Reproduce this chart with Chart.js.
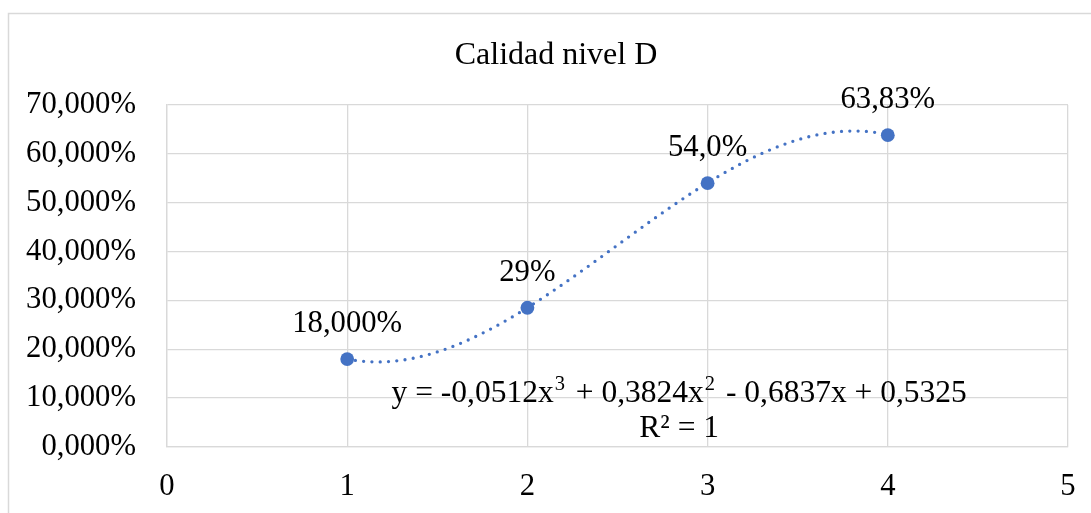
<!DOCTYPE html>
<html lang="es">
<head>
<meta charset="utf-8">
<title>Calidad nivel D</title>
<script src="https://cdn.jsdelivr.net/npm/chart.js@4.4.1/dist/chart.umd.min.js"></script>
<style>
  html, body { margin: 0; padding: 0; background: #ffffff; }
  #wrap { position: relative; width: 1091px; height: 513px; }
</style>
</head>
<body>
<div id="wrap"><canvas id="chart" width="1091" height="513"></canvas></div>
<script>
// Niveles (eje X) y porcentaje de calidad observado en cada uno
const niveles = [1, 2, 3, 4];
const calidad = [0.18, 0.285, 0.54, 0.6383];
// Decimales con los que se rotula cada punto
const decimalesEtiqueta = [3, 0, 1, 2];

// Línea de tendencia polinómica de grado 3 (de mayor a menor potencia)
const coefTendencia = [-0.0512, 0.3824, -0.6837, 0.5325];
const r2Tendencia = 1;

const titulo = 'Calidad nivel D';

// Ejes
const ejeX = { min: 0, max: 5, paso: 1 };
const ejeY = { min: 0, max: 0.7, paso: 0.1 };

const AZUL = '#4472C4';
const GRIS = '#d9d9d9';
const FUENTE = "'Times New Roman', 'Liberation Serif', serif";
const TAM = 30.7;

function coma(n) { return String(n).replace('.', ','); }

function porcentaje(v, dec) {
  const f = Math.pow(10, dec);
  const r = Math.round(v * 100 * f + 1e-7) / f;
  return r.toFixed(dec).replace('.', ',') + '%';
}

function polinomio(x) {
  const g = coefTendencia.length - 1;
  return coefTendencia.reduce((s, c, i) => s + c * Math.pow(x, g - i), 0);
}

// Trozos de la ecuación: texto normal y exponentes en superíndice
function trozosEcuacion() {
  const g = coefTendencia.length - 1;
  const trozos = [{ t: 'y = ' }];
  coefTendencia.forEach((c, i) => {
    const p = g - i;
    const signo = i === 0 ? (c < 0 ? '-' : '') : (c < 0 ? ' - ' : ' + ');
    trozos.push({ t: signo + coma(Math.abs(c)) + (p > 0 ? 'x' : '') });
    if (p > 1) trozos.push({ t: String(p), sup: true });
  });
  return trozos;
}

// Curva de tendencia evaluada entre el primer y el último nivel
const curva = [];
for (let x = niveles[0]; x <= niveles[niveles.length - 1] + 1e-9; x += 0.04) {
  curva.push({ x: x, y: polinomio(x) });
}

const marco = {
  id: 'marco',
  beforeDraw(chart) {
    const ctx = chart.ctx;
    ctx.save();
    ctx.fillStyle = '#ffffff';
    ctx.fillRect(0, 0, chart.width, chart.height);
    ctx.strokeStyle = GRIS;
    ctx.lineWidth = 1.5;
    ctx.strokeRect(8.5, 13.5, chart.width + 20, chart.height + 20);
    // Título
    ctx.font = '32px ' + FUENTE;
    ctx.fillStyle = '#000000';
    ctx.textAlign = 'center';
    ctx.textBaseline = 'alphabetic';
    ctx.fillText(titulo, 556, 64);
    ctx.restore();
  }
};

const etiquetas = {
  id: 'etiquetas',
  afterDatasetsDraw(chart) {
    const ctx = chart.ctx;
    const meta = chart.getDatasetMeta(1);
    ctx.save();
    ctx.font = TAM + 'px ' + FUENTE;
    ctx.fillStyle = '#000000';
    ctx.textAlign = 'center';
    ctx.textBaseline = 'middle';
    meta.data.forEach((pt, i) => {
      ctx.fillText(porcentaje(calidad[i], decimalesEtiqueta[i]), pt.x, pt.y - 35);
    });

    // Ecuación y R² de la línea de tendencia
    const a = chart.chartArea;
    const cx = a.left + (a.right - a.left) * 0.5685;
    const base = a.top + 297;
    const fNormal = '31.5px ' + FUENTE;
    const fSup = '20.5px ' + FUENTE;
    const trozos = trozosEcuacion();
    const espacioSup = 4;
    let ancho = 0;
    trozos.forEach(tr => {
      ctx.font = tr.sup ? fSup : fNormal;
      tr.w = ctx.measureText(tr.t).width + (tr.sup ? espacioSup : 0);
      ancho += tr.w;
    });
    ctx.textAlign = 'left';
    ctx.textBaseline = 'alphabetic';
    let x = cx - ancho / 2;
    trozos.forEach(tr => {
      ctx.font = tr.sup ? fSup : fNormal;
      ctx.fillText(tr.t, x + (tr.sup ? 1 : 0), tr.sup ? base - 12 : base);
      x += tr.w;
    });
    ctx.font = fNormal;
    ctx.textAlign = 'center';
    ctx.fillText('R\u00B2 = ' + coma(r2Tendencia), cx, base + 35);
    ctx.restore();
  }
};

new Chart(document.getElementById('chart'), {
  type: 'scatter',
  data: {
    datasets: [
      {
        label: 'Polinómica',
        type: 'line',
        data: curva,
        showLine: true,
        borderColor: AZUL,
        borderWidth: 3.3,
        borderDash: [0, 8.3],
        borderCapStyle: 'round',
        borderJoinStyle: 'round',
        pointRadius: 0,
        tension: 0,
        fill: false,
        order: 2
      },
      {
        label: titulo,
        data: niveles.map((x, i) => ({ x: x, y: calidad[i] })),
        backgroundColor: AZUL,
        borderColor: AZUL,
        pointRadius: 6.9,
        pointBorderWidth: 0,
        pointHoverRadius: 6.9,
        order: 1
      }
    ]
  },
  options: {
    responsive: false,
    animation: false,
    layout: { padding: { left: 10, right: 23, top: 105, bottom: 0 } },
    plugins: {
      legend: { display: false },
      tooltip: { enabled: false },
      title: { display: false }
    },
    scales: {
      x: {
        type: 'linear',
        min: ejeX.min,
        max: ejeX.max,
        afterFit(s) { s.height = 66; s.paddingLeft = 0; s.paddingRight = 0; },
        ticks: {
          stepSize: ejeX.paso,
          color: '#000000',
          padding: 22,
          font: { family: FUENTE, size: TAM },
          maxRotation: 0
        },
        grid: { color: GRIS, lineWidth: 1.3, drawTicks: false },
        border: { color: GRIS, width: 1.3 }
      },
      y: {
        min: ejeY.min,
        max: ejeY.max,
        afterFit(s) { s.width = 157; s.paddingTop = 0; s.paddingBottom = 0; },
        ticks: {
          stepSize: ejeY.paso,
          color: '#000000',
          padding: 31,
          font: { family: FUENTE, size: TAM },
          callback: (v) => porcentaje(v, 3)
        },
        grid: { color: GRIS, lineWidth: 1.3, drawTicks: false },
        border: { color: GRIS, width: 1.3 }
      }
    }
  },
  plugins: [marco, etiquetas]
});
</script>
</body>
</html>
